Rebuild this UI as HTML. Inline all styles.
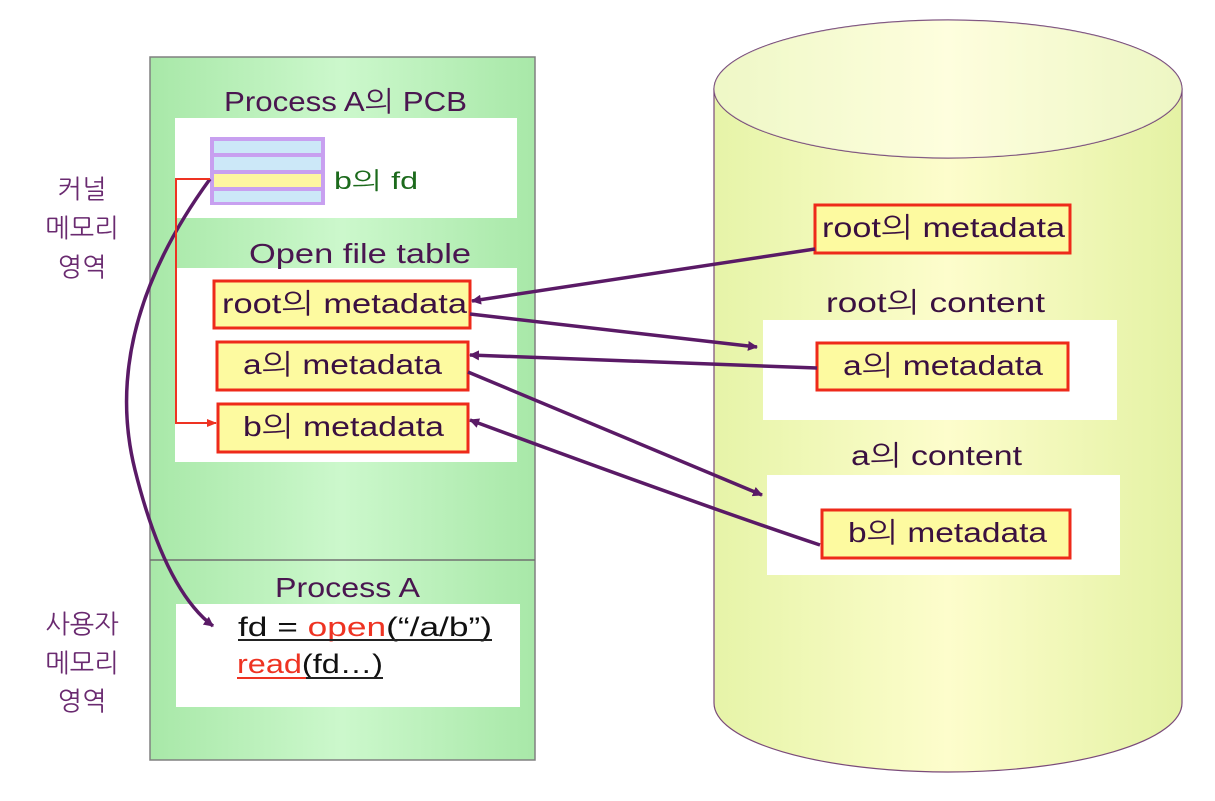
<!DOCTYPE html>
<html><head><meta charset="utf-8"><style>
body{margin:0;background:#fff;}
svg text{font-family:"Liberation Sans","NanumGothic","Noto Sans CJK KR",sans-serif;}
</style></head><body>
<svg width="1215" height="796" viewBox="0 0 1215 796" xmlns="http://www.w3.org/2000/svg">
<defs>
<linearGradient id="g" x1="0" x2="1" y1="0" y2="0">
<stop offset="0" stop-color="#a8e8a8"/><stop offset="0.5" stop-color="#ccf8cc"/><stop offset="1" stop-color="#a8e8a8"/></linearGradient>
<linearGradient id="y" x1="0" x2="1" y1="0" y2="0">
<stop offset="0" stop-color="#e6f4a8"/><stop offset="0.5" stop-color="#fdfdcc"/><stop offset="1" stop-color="#e4f2a4"/></linearGradient>
<marker id="a" markerWidth="10" markerHeight="10" refX="9" refY="5" orient="auto" markerUnits="userSpaceOnUse"><path d="M0,0 L10,5 L0,10 Z" fill="#5a1a66"/></marker>
<marker id="r" markerWidth="10" markerHeight="10" refX="9" refY="5" orient="auto" markerUnits="userSpaceOnUse"><path d="M0,1 L10,5 L0,9 Z" fill="#ee3322"/></marker>
</defs>
<rect x="150" y="57" width="385" height="703" fill="url(#g)" stroke="#808080" stroke-width="1.5"/>
<line x1="150" y1="560" x2="535" y2="560" stroke="#707070" stroke-width="1.5"/>
<rect x="175" y="118" width="342" height="100" fill="#fff"/>
<rect x="175" y="268" width="342" height="194" fill="#fff"/>
<rect x="176" y="604" width="344" height="103" fill="#fff"/>
<text x="224" y="111" font-size="28" fill="#4a1650" textLength="243" lengthAdjust="spacingAndGlyphs">Process A의 PCB</text>
<text x="249" y="263" font-size="28" fill="#4a1650" textLength="222" lengthAdjust="spacingAndGlyphs">Open file table</text>
<text x="275" y="597" font-size="28" fill="#4a1650" textLength="145" lengthAdjust="spacingAndGlyphs">Process A</text>
<rect x="210" y="137" width="115" height="68" fill="#c8a0f0"/>
<rect x="214" y="141" width="107" height="12" fill="#cce8f8"/>
<rect x="214" y="157" width="107" height="13" fill="#cce8f8"/>
<rect x="214" y="174" width="107" height="13" fill="#fdf6a0"/>
<rect x="214" y="191" width="107" height="11" fill="#cce8f8"/>
<text x="334" y="189" font-size="24" fill="#1c6a1c" textLength="84" lengthAdjust="spacingAndGlyphs">b의 fd</text>
<g font-size="28" fill="#3a1040">
<rect x="214" y="281" width="256" height="47" fill="#fdfaa0" stroke="#ee2a1a" stroke-width="3"/>
<text x="222" y="313" textLength="245" lengthAdjust="spacingAndGlyphs">root의 metadata</text>
<rect x="217" y="342" width="251" height="48" fill="#fdfaa0" stroke="#ee2a1a" stroke-width="3"/>
<text x="243" y="374" textLength="199" lengthAdjust="spacingAndGlyphs">a의 metadata</text>
<rect x="218" y="404" width="250" height="48" fill="#fdfaa0" stroke="#ee2a1a" stroke-width="3"/>
<text x="243" y="436" textLength="201" lengthAdjust="spacingAndGlyphs">b의 metadata</text>
</g>
<text x="238" y="636" font-size="27" fill="#111" textLength="254" lengthAdjust="spacingAndGlyphs">fd = <tspan fill="#ee3322">open</tspan>(“/a/b”)</text>
<line x1="238" y1="640" x2="492" y2="640" stroke="#222" stroke-width="2"/>
<text x="237" y="673" font-size="27" fill="#111" textLength="146" lengthAdjust="spacingAndGlyphs"><tspan fill="#ee3322">read</tspan>(fd…)</text>
<line x1="237" y1="678" x2="383" y2="678" stroke="#222" stroke-width="2"/>
<line x1="237" y1="678" x2="306" y2="678" stroke="#ee3322" stroke-width="2"/>
<g font-size="26" fill="#6a2a70" text-anchor="middle">
<text x="82" y="198">커널</text><text x="82" y="237">메모리</text><text x="82" y="276">영역</text>
<text x="82" y="633">사용자</text><text x="82" y="672">메모리</text><text x="82" y="710">영역</text>
</g>
<path d="M714,89 L714,703 A234,69 0 0 0 1182,703 L1182,89 Z" fill="url(#y)" stroke="#7a4a7a" stroke-width="1.2"/>
<ellipse cx="948" cy="89" rx="234" ry="69" fill="url(#y)" stroke="#6a3a6a" stroke-width="1.2"/>
<ellipse cx="948" cy="89" rx="234" ry="69" fill="#fff" opacity="0.35"/>
<rect x="763" y="320" width="354" height="100" fill="#fff"/>
<rect x="767" y="475" width="353" height="100" fill="#fff"/>
<text x="826" y="312" font-size="28" fill="#3a1040" textLength="219" lengthAdjust="spacingAndGlyphs">root의 content</text>
<text x="851" y="465" font-size="28" fill="#3a1040" textLength="171" lengthAdjust="spacingAndGlyphs">a의 content</text>
<g font-size="28" fill="#3a1040">
<rect x="815" y="205" width="255" height="48" fill="#fdfaa0" stroke="#ee2a1a" stroke-width="3"/>
<text x="822" y="237" textLength="243" lengthAdjust="spacingAndGlyphs">root의 metadata</text>
<rect x="817" y="343" width="251" height="47" fill="#fdfaa0" stroke="#ee2a1a" stroke-width="3"/>
<text x="843" y="375" textLength="200" lengthAdjust="spacingAndGlyphs">a의 metadata</text>
<rect x="822" y="510" width="248" height="48" fill="#fdfaa0" stroke="#ee2a1a" stroke-width="3"/>
<text x="848" y="542" textLength="199" lengthAdjust="spacingAndGlyphs">b의 metadata</text>
</g>
<g stroke="#5a1a66" stroke-width="3.5" fill="none" marker-end="url(#a)">
<line x1="815" y1="249" x2="472" y2="301"/>
<line x1="470" y1="314" x2="757" y2="347"/>
<line x1="817" y1="368" x2="470" y2="355"/>
<line x1="468" y1="372" x2="762" y2="495"/>
<path d="M820,545 Q700,505 470,420"/>
<path d="M210,179 Q100,330 135,470 Q165,590 213,626"/>
</g>
<polyline points="210,179 176,179 176,423 216,423" fill="none" stroke="#ee3322" stroke-width="2" marker-end="url(#r)"/>
</svg>
</body></html>
